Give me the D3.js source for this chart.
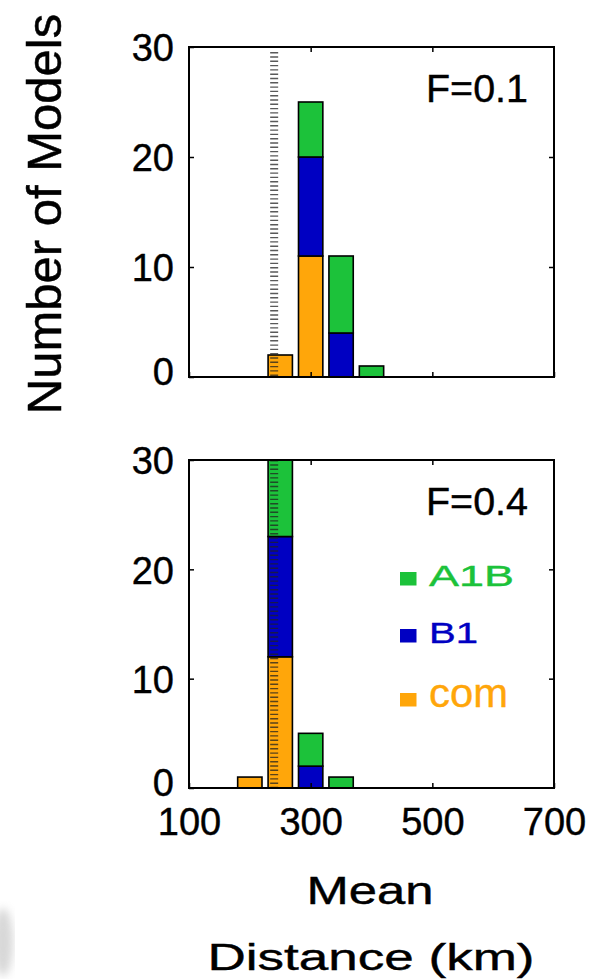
<!DOCTYPE html>
<html>
<head>
<meta charset="utf-8">
<script src="https://cdnjs.cloudflare.com/ajax/libs/d3/7.8.5/d3.min.js"></script>
<style>
  body { margin: 0; background: #fff; }
  text { font-family: Arial, "Liberation Sans", sans-serif; fill: #000; }
</style>
</head>
<body>
<div id="chart"></div>
<script>
var svgWidth = 599;
var svgHeight = 979;

// histogram bins (centre of bin, km) and stacked counts per scenario
var binsTop = [250, 300, 350, 400];
var comTop = [2, 11, 0, 0];
var b1Top = [0, 9, 4, 0];
var a1bTop = [0, 5, 7, 1];

var binsBottom = [200, 250, 300, 350];
var comBottom = [1, 12, 0, 0];
var b1Bottom = [0, 11, 2, 0];
var a1bBottom = [0, 7, 3, 1];

var xTicks = [100, 300, 500, 700];
var yTicks = [0, 10, 20, 30];
var markerDistance = 240;
var binWidth = 40;

var keys = ["com", "B1", "A1B"];
var colors = { A1B: "#1cc23a", B1: "#0000c2", com: "#ffa60a" };
var legendItems = ["A1B", "B1", "com"];

var svg = d3.select("#chart").append("svg")
  .attr("width", svgWidth)
  .attr("height", svgHeight);

var x = d3.scaleLinear().domain([100, 700]).range([189, 554]);

// text that is stretched sideways in the original figure
function stretchText(parent, cx, cy, size, width, anchor, str, color) {
  var t = parent.append("text")
    .attr("text-anchor", anchor)
    .style("font-size", size + "px")
    .style("fill", color || "#000")
    .attr("stroke", color || "#000")
    .attr("stroke-width", 0.4)
    .text(str);
  var natural = t.node().getComputedTextLength();
  var sx = width / natural;
  t.attr("transform", `translate(${cx}, ${cy}) scale(${sx}, 1)`);
  return t;
}

// smudge at the bottom left of the scan
var defs = svg.append("defs");
defs.append("filter").attr("id", "blur")
  .append("feGaussianBlur").attr("stdDeviation", 4);
svg.append("ellipse")
  .attr("cx", 3).attr("cy", 942).attr("rx", 10).attr("ry", 34)
  .attr("fill", "#a8a8a8").attr("opacity", 0.45)
  .attr("filter", "url(#blur)");

function drawPanel(top, bottom, bins, com, b1, a1b, label, showXLabels, markerTop) {
  var y = d3.scaleLinear().domain([0, 30]).range([bottom, top]);
  var g = svg.append("g");

  var rows = bins.map(function(b, i) {
    return { bin: b, com: com[i], B1: b1[i], A1B: a1b[i] };
  });
  var series = d3.stack().keys(keys)(rows);

  g.selectAll("g.layer")
    .data(series)
    .enter()
    .append("g")
    .attr("class", "layer")
    .attr("fill", d => colors[d.key])
    .selectAll("rect")
    .data(d => d.filter(p => p[1] > p[0]))
    .enter()
    .append("rect")
    .attr("x", d => x(d.data.bin - binWidth / 2))
    .attr("width", d => x(d.data.bin + binWidth / 2) - x(d.data.bin - binWidth / 2))
    .attr("y", d => y(Math.min(d[1], 30)))
    .attr("height", d => y(d[0]) - y(Math.min(d[1], 30)))
    .attr("stroke", "#000")
    .attr("stroke-width", 1.6);

  // dotted marker line
  g.append("line")
    .attr("x1", x(markerDistance)).attr("x2", x(markerDistance))
    .attr("y1", markerTop).attr("y2", bottom)
    .attr("stroke", "#222")
    .attr("stroke-opacity", 0.75)
    .attr("stroke-width", 8)
    .attr("stroke-dasharray", "1.4,2.9");

  // inward ticks on all four sides
  var bottomAxis = d3.axisBottom(x).tickValues(xTicks).tickSize(-5).tickPadding(0);
  var topAxis = d3.axisTop(x).tickValues([300, 500]).tickSize(-5).tickFormat("");
  var leftAxis = d3.axisLeft(y).tickValues(yTicks).tickSize(-5).tickPadding(0);
  var rightAxis = d3.axisRight(y).tickValues([10, 20]).tickSize(-5).tickFormat("");

  var xb = g.append("g").attr("transform", `translate(0, ${bottom})`).call(bottomAxis);
  var xt = g.append("g").attr("transform", `translate(0, ${top})`).call(topAxis);
  var yl = g.append("g").attr("transform", `translate(${x(100)}, 0)`).call(leftAxis);
  var yr = g.append("g").attr("transform", `translate(${x(700)}, 0)`).call(rightAxis);

  [xb, xt, yl, yr].forEach(function(a) {
    a.select(".domain").remove();
    a.selectAll("line").attr("stroke", "#000").attr("stroke-width", 1.5);
  });

  xb.selectAll("text")
    .attr("y", 47).attr("dy", null)
    .style("font-size", "38px")
    .style("font-family", "Arial, 'Liberation Sans', sans-serif")
    .attr("fill", "#000")
    .attr("stroke", "#000").attr("stroke-width", 0.4)
    .style("display", showXLabels ? null : "none");

  yl.selectAll("text")
    .attr("x", -15)
    .attr("dy", "0.36em")
    .attr("y", d => d === 0 ? -6 : 0)
    .style("font-size", "38px")
    .style("font-family", "Arial, 'Liberation Sans', sans-serif")
    .attr("fill", "#000")
    .attr("stroke", "#000").attr("stroke-width", 0.4);

  // box
  g.append("rect")
    .attr("x", x(100)).attr("y", top)
    .attr("width", x(700) - x(100)).attr("height", bottom - top)
    .attr("fill", "none").attr("stroke", "#000").attr("stroke-width", 2);

  stretchText(g, 528, top + 55, 39, 102, "end", label);

  return y;
}

drawPanel(47, 377, binsTop, comTop, b1Top, a1bTop, "F=0.1", false, 52);
drawPanel(460, 788, binsBottom, comBottom, b1Bottom, a1bBottom, "F=0.4", true, 460);

// legend in lower panel
var legendBase = [586, 643, 707];
var legendWidth = [85, 49, 79];
var legendSize = [30, 30, 41];
var legend = svg.append("g");
legendItems.forEach(function(k, i) {
  legend.append("rect")
    .attr("x", 400).attr("y", legendBase[i] - 14)
    .attr("width", 16.5).attr("height", 13.5)
    .attr("fill", colors[k]);
  stretchText(legend, 429, legendBase[i], legendSize[i], legendWidth[i], "start", k, colors[k]);
});

// axis titles
svg.append("text")
  .attr("transform", "translate(61, 214) rotate(-90)")
  .attr("text-anchor", "middle")
  .style("font-size", "49px")
  .attr("stroke", "#000").attr("stroke-width", 0.5)
  .text("Number of Models");

stretchText(svg, 370, 904, 38, 127, "middle", "Mean");
stretchText(svg, 371, 970, 37, 327, "middle", "Distance (km)");
</script>
</body>
</html>
